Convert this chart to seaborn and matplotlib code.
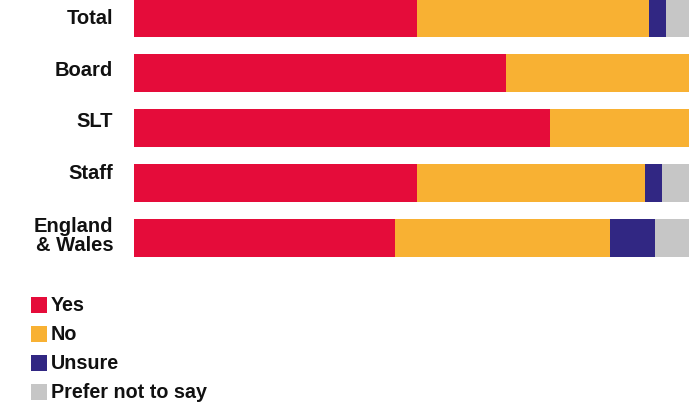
import matplotlib
matplotlib.use("Agg")
import matplotlib.pyplot as plt
import matplotlib.transforms as mtransforms
from matplotlib.patches import Rectangle
import seaborn as sns
import pandas as pd

# Survey responses (% of respondents)
groups = ["Total", "Board", "SLT", "Staff", "England\n& Wales"]
yes = [51.0, 67.0, 75.0, 51.0, 47.0]
no = [41.8, 33.0, 25.0, 41.0, 38.7]
unsure = [3.1, 0.0, 0.0, 3.1, 8.1]
prefer_not = [4.1, 0.0, 0.0, 4.9, 6.2]

series = ["Yes", "No", "Unsure", "Prefer not to say"]
colors = ["#E50C3A", "#F8B133", "#312783", "#C6C6C6"]

sns.set_theme(style="white")
plt.rcParams["font.family"] = ["Liberation Sans", "DejaVu Sans"]

df = pd.DataFrame({"group": groups, "Yes": yes, "No": no,
                   "Unsure": unsure, "Prefer not to say": prefer_not})
cum = df[series].cumsum(axis=1)

W, H, DPI = 700, 408, 100
fig = plt.figure(figsize=(W / DPI, H / DPI), dpi=DPI)
# axes spans one 55px slot per group
ax = fig.add_axes([134 / W, 1 - 265.5 / H, (689 - 134) / W, 275 / H])

# stacked bars: draw cumulative totals from the outermost layer inward
for name, col in reversed(list(zip(series, colors))):
    sns.barplot(x=cum[name], y=df["group"], color=col, orient="h",
                width=0.69, ax=ax, saturation=1, edgecolor="none")

ax.set_xlim(0, 100)
ax.set_ylim(4.5, -0.5)
ax.set_xlabel("")
ax.set_ylabel("")
ax.set_xticks([])
for s in ax.spines.values():
    s.set_visible(False)
ax.tick_params(axis="y", length=0, pad=15)

# category labels sit slightly above their bar centres
label_lift = [1, 3.5, 6, 8.3, 2.6]  # points
for lab, lift in zip(ax.get_yticklabels(), label_lift):
    lab.set_fontsize(14.5)
    lab.set_fontweight("bold")
    lab.set_color("#111111")
    lab.set_linespacing(0.95)
    lab.set_horizontalalignment("right")
    lab.set_transform(lab.get_transform() +
                      mtransforms.ScaledTranslation(0, lift / 72, fig.dpi_scale_trans))

# legend: coloured squares with labels
for i, (name, col) in enumerate(zip(series, colors)):
    yc = 305 + 29 * i
    fig.add_artist(Rectangle((31 / W, 1 - (yc + 8) / H), 16 / W, 16 / H,
                             transform=fig.transFigure, facecolor=col,
                             edgecolor="none"))
    fig.text(51 / W, 1 - (yc + 0.5) / H, name, fontsize=14.2, fontweight="bold",
             color="#111111", va="center", ha="left")

fig.savefig("out.png", dpi=DPI)
